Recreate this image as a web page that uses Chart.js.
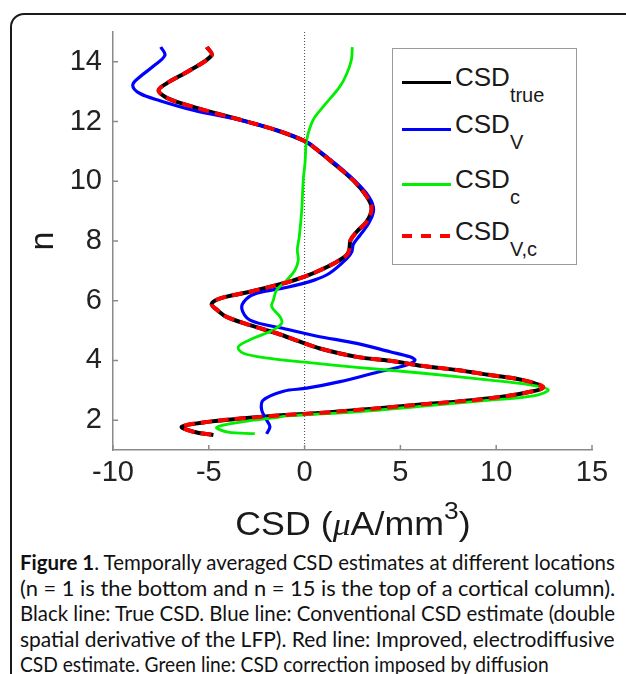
<!DOCTYPE html>
<html><head><meta charset="utf-8">
<script src="https://cdn.jsdelivr.net/npm/chart.js@4.4.1/dist/chart.umd.min.js"></script>
<style>
html,body{margin:0;padding:0;background:#fff;width:626px;height:674px;overflow:hidden;position:relative;}
#frame{position:absolute;left:10px;top:13px;width:720px;height:720px;border:2px solid #1a1a1a;border-radius:14px;box-sizing:border-box;}
#wrap{position:absolute;left:0;top:0;width:626px;height:500px;}
.t{position:absolute;font-family:"Liberation Sans",Arial,sans-serif;color:#1a1a1a;white-space:nowrap;}
#ytitle{left:21px;top:224px;width:40px;height:34px;font-size:34px;line-height:34px;text-align:center;transform:rotate(-90deg);}
#xtitle{left:113px;top:508px;width:479px;font-size:32.5px;line-height:32px;text-align:center;}
#xtitle span.in{display:inline-block;transform:scaleX(1.1);}
#xtitle i{font-family:"Liberation Serif",serif;font-style:italic;}
#xtitle sup{font-size:24px;vertical-align:16px;line-height:0;}
#legend{position:absolute;left:392px;top:48px;width:185px;height:217px;border:1.5px solid #9a9a9a;box-sizing:border-box;background:#fff;}
.li{position:absolute;left:9px;width:49px;height:0;}
.lt{position:absolute;left:62px;font-size:26px;line-height:26px;}
.lt span{font-size:20px;vertical-align:-16px;line-height:0;}
#cap{position:absolute;left:20px;top:549px;width:595px;font-family:Lato,"Open Sans",sans-serif;font-size:21px;line-height:25.6px;color:#111;}
#cap .ln{display:block;height:25.6px;white-space:nowrap;}
#cap .s{display:inline-block;transform-origin:0 50%;}
</style></head>
<body>
<div id="frame"></div>
<div id="wrap"><canvas id="c" width="626" height="500"></canvas></div>
<div id="ytitle" class="t">n</div>
<div id="xtitle" class="t"><span class="in">CSD (<i>μ</i>A/mm<sup>3</sup>)</span></div>
<div id="legend"></div>
<div id="cap">
<div class="ln"><span class="s" data-w="595"><b>Figure 1</b>. Temporally averaged CSD estimates at different locations</span></div>
<div class="ln"><span class="s" data-w="595">(n = 1 is the bottom and n = 15 is the top of a cortical column).</span></div>
<div class="ln"><span class="s" data-w="595">Black line: True CSD. Blue line: Conventional CSD estimate (double</span></div>
<div class="ln"><span class="s" data-w="595">spatial derivative of the LFP). Red line: Improved, electrodiffusive</span></div>
<div class="ln"><span class="s" data-w="529">CSD estimate. Green line: CSD correction imposed by diffusion</span></div>
</div>
<script>
// ---- data (n = depth index, CSD in µA/mm^3) ----
const xTickValues = [-10, -5, 0, 5, 10, 15];
const yTickValues = [2, 4, 6, 8, 10, 12, 14];

const nTrue   = [14.5, 14.22, 13.72, 13.28, 13.05, 12.83, 12.66, 12.33, 12.03, 11.71, 11.34, 11.0, 10.7, 10.03, 9.49, 9.09, 8.65, 8.31, 8.03, 7.7, 7.53, 7.3, 6.97, 6.81, 6.62, 6.3, 6.08, 5.89, 5.68, 5.46, 5.18, 4.91, 4.63, 4.4, 4.12, 3.99, 3.81, 3.68, 3.51, 3.34, 3.1, 2.9, 2.73, 2.62, 2.53, 2.43, 2.34, 2.25, 2.17, 2.06, 1.95, 1.78, 1.61, 1.5];
const csdTrue = [-5.1, -4.85, -5.98, -7.2, -7.62, -7.29, -6.67, -4.94, -3.2, -1.46, 0.02, 0.75, 1.33, 2.54, 3.24, 3.5, 3.24, 2.72, 2.4, 2.33, 2.2, 1.67, 0.63, 0.0, -0.9, -2.85, -4.4, -4.85, -4.55, -4.07, -2.85, -1.46, -0.24, 0.8, 2.72, 4.46, 6.2, 7.94, 9.68, 11.4, 12.46, 11.4, 9.68, 7.94, 6.2, 4.46, 2.72, 0.98, -1.0, -3.2, -4.94, -6.41, -5.81, -4.76];

const nV   = [14.5, 14.22, 13.85, 13.5, 13.22, 12.94, 12.7, 12.38, 12.03, 11.71, 11.34, 11.0, 10.7, 10.03, 9.49, 9.05, 8.6, 8.2, 7.9, 7.64, 7.41, 6.92, 6.69, 6.45, 6.25, 6.05, 5.74, 5.35, 5.07, 4.82, 4.57, 4.29, 4.12, 4.01, 3.85, 3.57, 3.29, 3.07, 2.97, 2.67, 2.34, 2.0, 1.78, 1.54];
const csdV = [-7.51, -7.29, -7.9, -8.59, -8.97, -8.59, -7.55, -5.81, -3.25, -1.46, 0.05, 0.8, 1.4, 2.6, 3.35, 3.6, 3.35, 2.9, 2.55, 2.46, 2.2, 1.3, 0.5, -0.9, -2.5, -3.05, -3.28, -2.85, -1.1, 0.6, 2.72, 4.46, 5.5, 5.76, 5.33, 3.59, 1.85, 0.11, -1.1, -2.16, -2.24, -1.98, -1.81, -1.98];

const nC   = [14.49, 14.06, 13.6, 13.16, 12.49, 12.05, 11.38, 10.6, 10.04, 9.03, 8.14, 7.7, 7.36, 7.03, 6.69, 6.36, 6.02, 5.8, 5.46, 5.24, 5.02, 4.74, 4.46, 4.24, 4.07, 3.94, 3.77, 3.57, 3.34, 3.18, 3.01, 2.81, 2.67, 2.47, 2.28, 2.14, 2.08, 1.95, 1.76, 1.6, 1.55];
const csdC = [2.49, 2.44, 2.2, 1.83, 0.96, 0.44, 0.11, 0.02, -0.07, -0.15, -0.28, -0.38, -0.33, -0.5, -0.93, -1.46, -1.63, -1.72, -1.28, -1.2, -1.63, -2.68, -3.46, -3.2, -1.81, 0.0, 2.72, 6.2, 9.68, 11.76, 12.72, 11.94, 9.68, 6.2, 2.72, -0.9, -1.6, -3.2, -4.59, -4.0, -2.6];

const nVC   = [14.5, 14.22, 13.72, 13.28, 13.05, 12.83, 12.66, 12.33, 12.03, 11.71, 11.34, 11.0, 10.7, 10.03, 9.49, 9.09, 8.65, 8.31, 8.03, 7.7, 7.53, 7.3, 6.97, 6.81, 6.62, 6.3, 6.08, 5.89, 5.68, 5.46, 5.18, 4.91, 4.63, 4.4, 4.12, 3.99, 3.81, 3.68, 3.51, 3.34, 3.1, 2.9, 2.73, 2.62, 2.53, 2.43, 2.34, 2.25, 2.17, 2.06, 1.95, 1.78, 1.61, 1.5];
const csdVC = [-5.1, -4.85, -5.98, -7.2, -7.62, -7.29, -6.67, -4.94, -3.2, -1.46, 0.02, 0.75, 1.33, 2.54, 3.24, 3.5, 3.24, 2.72, 2.4, 2.33, 2.2, 1.67, 0.63, 0.0, -0.9, -2.85, -4.4, -4.85, -4.55, -4.07, -2.85, -1.46, -0.24, 0.8, 2.72, 4.46, 6.2, 7.94, 9.68, 11.4, 12.46, 11.4, 9.68, 7.94, 6.2, 4.46, 2.72, 0.98, -1.0, -3.2, -4.94, -6.41, -5.81, -4.76];

const zeroN = [1, 15];
const zeroX = [0, 0];

const seriesLabels = [["CSD","true"],["CSD","V"],["CSD","c"],["CSD","V,c"]];
const seriesColors = ["#000000","#0000ff","#00ee00","#ff0000"];

const pts = (ns, xs) => ns.map((n, i) => ({x: xs[i], y: n}));

const innerTicks = {
  id: 'innerTicks',
  afterDraw(chart) {
    const {ctx, chartArea: a, scales: {x, y}} = chart;
    ctx.save();
    ctx.strokeStyle = '#8a8a8a';
    ctx.lineWidth = 1.5;
    ctx.beginPath();
    yTickValues.forEach(v => { const p = y.getPixelForValue(v); ctx.moveTo(a.left, p); ctx.lineTo(a.left + 5, p); });
    xTickValues.forEach(v => { const p = x.getPixelForValue(v); ctx.moveTo(p, a.bottom); ctx.lineTo(p, a.bottom - 5); });
    ctx.stroke();
    ctx.restore();
  }
};

const common = {showLine: true, pointRadius: 0, tension: 0.35, fill: false};
new Chart(document.getElementById('c'), {
  type: 'scatter',
  data: {
    datasets: [
      {...common, label: 'CSD_true', data: pts(nTrue, csdTrue), borderColor: seriesColors[0], borderWidth: 4, order: 3},
      {...common, label: 'CSD_V', data: pts(nV, csdV), borderColor: seriesColors[1], borderWidth: 3.2, order: 2},
      {...common, label: 'CSD_c', data: pts(nC, csdC), borderColor: seriesColors[2], borderWidth: 2.8, order: 1},
      {...common, label: 'CSD_V,c', data: pts(nVC, csdVC), borderColor: seriesColors[3], borderWidth: 4, borderDash: [11, 6], order: 0},
      {...common, label: 'zero', data: pts(zeroN, zeroX), borderColor: '#444', borderWidth: 1, borderDash: [1, 2], tension: 0, order: 4}
    ]
  },
  options: {
    responsive: false,
    animation: false,
    devicePixelRatio: 1,
    layout: {padding: {left: 0, top: 32, right: 34, bottom: 0}},
    plugins: {legend: {display: false}, tooltip: {enabled: false}},
    scales: {
      x: {
        type: 'linear', min: -10, max: 15,
        afterFit(s) { s.height = 50; },
        afterBuildTicks(s) { s.ticks = xTickValues.map(v => ({value: v})); },
        grid: {display: false, drawTicks: false},
        border: {display: true, color: '#8a8a8a', width: 1.5},
        ticks: {padding: 6, color: '#222', font: {family: 'Liberation Sans', size: 29}}
      },
      y: {
        type: 'linear', min: 1, max: 15,
        afterFit(s) { s.width = 113; },
        afterBuildTicks(s) { s.ticks = yTickValues.map(v => ({value: v})); },
        grid: {display: false, drawTicks: false},
        border: {display: true, color: '#8a8a8a', width: 1.5},
        ticks: {padding: 11, color: '#222', font: {family: 'Liberation Sans', size: 29}}
      }
    }
  },
  plugins: [innerTicks]
});

// HTML legend built from the series labels/colours
const legend = document.getElementById('legend');
const baselines = [37, 84, 139, 191];
seriesLabels.forEach((lab, i) => {
  const line = document.createElement('div');
  line.className = 'li';
  line.style.top = (baselines[i] - 4 - (i === 3 ? 2 : 1.5)) + 'px';
  if (i === 3) {
    line.style.height = '4px';
    line.style.background = 'repeating-linear-gradient(to right,' + seriesColors[i] + ' 0 10px, transparent 10px 19px)';
  } else {
    line.style.height = '3px';
    line.style.background = seriesColors[i];
  }
  legend.appendChild(line);
  const t = document.createElement('div');
  t.className = 't lt';
  t.style.top = (baselines[i] - 22) + 'px';
  t.innerHTML = lab[0] + '<span>' + lab[1] + '</span>';
  legend.appendChild(t);
});

// Caption: fit each line to its measured width in the figure (condensed look)
function fitCaption() {
  document.querySelectorAll('#cap .s').forEach(s => {
    const k = parseFloat(s.dataset.w) / s.offsetWidth;
    s.style.transform = 'scaleX(' + k + ')';
  });
}
fitCaption();
if (document.fonts && document.fonts.ready) document.fonts.ready.then(fitCaption);
</script>
</body></html>
